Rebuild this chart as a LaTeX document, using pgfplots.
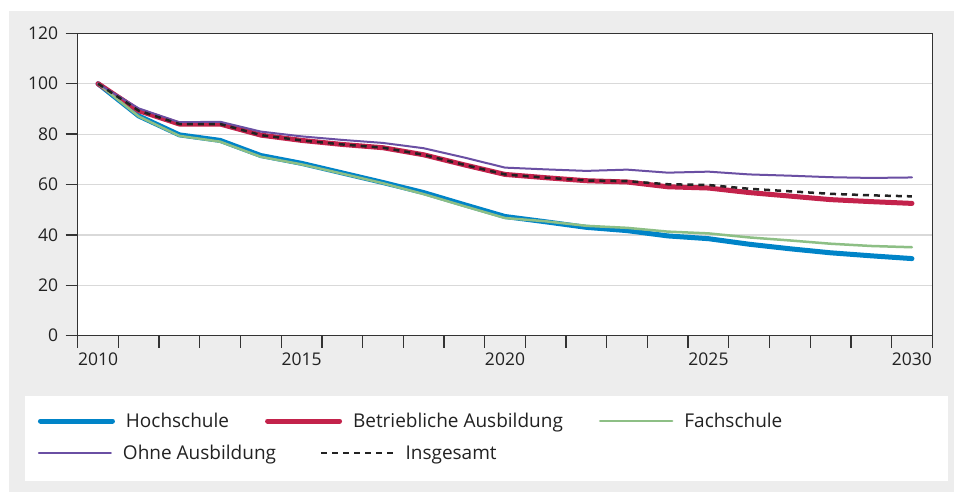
\documentclass[border=0pt]{standalone}
\usepackage{fontspec}
\setmainfont{Open Sans}
\usepackage{pgfplots}
\pgfplotsset{compat=1.18}
\definecolor{bg}{HTML}{EDEDED}
\definecolor{hs}{HTML}{0084C8}
\definecolor{ba}{HTML}{C3224B}
\definecolor{fs}{HTML}{8DBF85}
\definecolor{oa}{HTML}{6A4FA3}
\definecolor{fr}{HTML}{333333}
\definecolor{gr}{HTML}{D9D9D9}
\definecolor{tx}{HTML}{222222}
\pgfplotsset{
  mylegend/.style={
    legend cell align=left,
    legend columns=-1,
    legend style={draw=none, fill=none, inner sep=0pt, outer sep=0pt,
      anchor=west, font=\fontsize{19bp}{22bp}\selectfont, text=tx,
      nodes={inner sep=0pt},
      /tikz/every odd column/.append style={column sep=11bp},
      /tikz/every even column/.append style={column sep=#1}},
    legend image code/.code={\draw[##1] (0bp,0bp) -- (72bp,0bp);},
  },
  mybox/.style={
    at={(77.7bp,-335.7bp)}, anchor=south west,
    scale only axis, width=854.6bp, height=302.4bp,
  }
}
\begin{document}
\begin{tikzpicture}
\fill[white] (0bp,0bp) rectangle (954bp,-492bp);
\fill[bg] (9bp,-11bp) rectangle (954bp,-492bp);
\fill[white] (25bp,-396bp) rectangle (948bp,-481bp);
\begin{axis}[mybox, mylegend=36bp,
  legend style={at={(rel axis cs:-0.0465,-0.2821)}},
  xmin=2009.5, xmax=2030.5, ymin=0, ymax=120,
  xtick={2009.5,2010.5,...,2030.5}, xticklabels={},
  extra x ticks={2010,2015,2020,2025,2030},
  extra x tick labels={2010,2015,2020,2025,2030},
  extra x tick style={major tick length=0pt, tick style={draw=none}},
  ytick={0,20,...,120},
  xtick pos=bottom, ytick pos=left,
  tick align=outside, major tick length=12bp,
  axis line style={fr, line width=1.3bp},
  tick style={fr, line width=1.3bp},
  ymajorgrids, grid style={gr, line width=1.2bp},
  axis background/.style={fill=white},
  tick label style={font=\fontsize{17.5bp}{21bp}\selectfont, text=tx, inner sep=0pt},
  xticklabel style={yshift=-17bp},
  yticklabel style={xshift=-7.4bp},
  /pgf/number format/assume math mode=true,
  every axis plot/.append style={line cap=round, line join=round},
]
\addplot[hs, line width=5bp] coordinates {
(2010,100) (2011,87.2) (2012,79.7) (2013,77.5) (2014,71.5) (2015,68.4) (2016,64.6) (2017,60.8) (2018,56.8) (2019,52.0) (2020,47.3)
(2021,45.2) (2022,43.0) (2023,41.7) (2024,39.6) (2025,38.5) (2026,36.3) (2027,34.5) (2028,32.9) (2029,31.7) (2030,30.6)};
\addlegendentry{Hochschule}
\addplot[ba, line width=5bp] coordinates {
(2010,100) (2011,89.3) (2012,84.0) (2013,84.0) (2014,79.6) (2015,77.5) (2016,75.9) (2017,74.6) (2018,71.8) (2019,67.8) (2020,64.0)
(2021,62.7) (2022,61.5) (2023,61.0) (2024,59.1) (2025,58.6) (2026,56.8) (2027,55.4) (2028,54.0) (2029,53.2) (2030,52.5)};
\addlegendentry{Betriebliche Ausbildung}
\addplot[fs, line width=2.5bp] coordinates {
(2010,100) (2011,87.0) (2012,79.3) (2013,77.0) (2014,71.0) (2015,68.0) (2016,64.3) (2017,60.5) (2018,56.2) (2019,51.4) (2020,46.7)
(2021,45.4) (2022,43.6) (2023,42.8) (2024,41.3) (2025,40.6) (2026,39.0) (2027,37.8) (2028,36.5) (2029,35.6) (2030,35.1)};
\addlegendentry{Fachschule}
\addplot[oa, line width=2bp, forget plot] coordinates {
(2010,100) (2011,90.2) (2012,84.7) (2013,84.9) (2014,81.0) (2015,79.1) (2016,77.7) (2017,76.5) (2018,74.4) (2019,70.7) (2020,66.7)
(2021,66.0) (2022,65.4) (2023,65.9) (2024,64.7) (2025,65.1) (2026,64.0) (2027,63.5) (2028,62.9) (2029,62.6) (2030,62.8)};
\addplot[tx, line width=2.5bp, dash pattern=on 6bp off 5bp, line cap=butt, forget plot] coordinates {
(2010,100) (2011,89.3) (2012,84.0) (2013,84.0) (2014,79.6) (2015,77.5) (2016,75.9) (2017,74.6) (2018,71.8) (2019,67.8) (2020,64.0)
(2021,62.7) (2022,61.6) (2023,61.3) (2024,60.1) (2025,59.8) (2026,58.3) (2027,57.3) (2028,56.3) (2029,55.7) (2030,55.3)};
\end{axis}
\begin{axis}[mybox, mylegend=44bp, hide axis,
  legend style={at={(rel axis cs:-0.0465,-0.3879)}},
  xmin=0, xmax=1, ymin=0, ymax=1]
\addlegendimage{oa, line width=2bp, line cap=round}
\addlegendentry{Ohne Ausbildung}
\addlegendimage{tx, line width=2.5bp, dash pattern=on 6bp off 5bp}
\addlegendentry{Insgesamt}
\end{axis}
\end{tikzpicture}
\end{document}
